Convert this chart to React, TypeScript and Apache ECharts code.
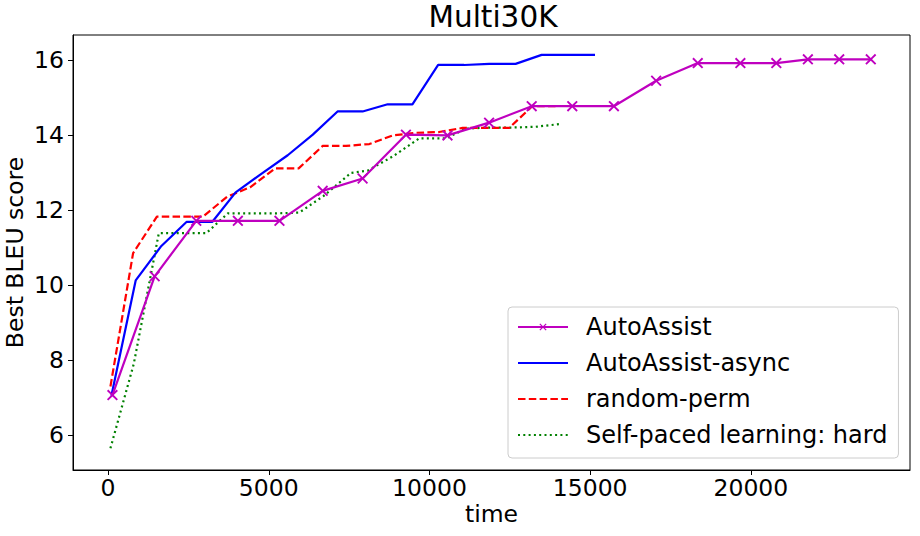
import React, { useEffect, useRef } from "react";
import * as echarts from "echarts";

const xTicks = [0, 5000, 10000, 15000, 20000];
const yTicks = [6, 8, 10, 12, 14, 16];

const autoX = [137, 1450, 2745, 4039, 5333, 6678, 7920, 9268, 10561, 11855, 13181, 14443, 15738, 17052, 18347, 19673, 20791, 21773, 22748, 23730];
const autoY = [7.07, 10.24, 11.72, 11.72, 11.72, 12.52, 12.85, 14.02, 14.0, 14.34, 14.78, 14.78, 14.78, 15.46, 15.93, 15.93, 15.93, 16.03, 16.03, 16.03];

const asyncX = [105, 860, 1660, 2440, 3240, 3970, 4780, 5590, 6370, 7140, 7920, 8700, 9470, 10270, 11080, 11860, 12680, 13490, 14320, 15150];
const asyncY = [7.05, 10.13, 11.05, 11.69, 11.69, 12.48, 12.98, 13.47, 14.02, 14.64, 14.64, 14.83, 14.83, 15.88, 15.88, 15.91, 15.91, 16.15, 16.15, 16.15];

const randX = [75, 780, 1520, 2240, 2950, 3700, 4430, 5200, 5930, 6680, 7400, 8130, 8860, 9580, 10300, 11030, 11750, 12480, 13200, 13930];
const randY = [7.3, 10.86, 11.83, 11.83, 11.83, 12.36, 12.62, 13.12, 13.12, 13.72, 13.72, 13.77, 14.0, 14.07, 14.09, 14.2, 14.2, 14.2, 14.78, 14.78];

const spX = [75, 800, 1580, 2320, 3056, 3727, 4500, 5250, 5950, 6700, 7560, 8080, 8880, 9680, 10510, 11130, 11850, 12580, 13300, 14030];
const spY = [5.65, 7.9, 11.39, 11.39, 11.39, 11.92, 11.92, 11.92, 11.94, 12.38, 13.0, 13.06, 13.45, 13.92, 13.92, 14.18, 14.21, 14.21, 14.23, 14.3];

const seriesNames = ["AutoAssist", "AutoAssist-async", "random-perm", "Self-paced learning: hard"];

const FONT = "DejaVu Sans";
const X_MARK = "path://M0,1.2L1.2,0L5,3.8L8.8,0L10,1.2L6.2,5L10,8.8L8.8,10L5,6.2L1.2,10L0,8.8L3.8,5Z";

const pairs = (xs: number[], ys: number[]) => xs.map((x, i) => [x, ys[i]]);

export default function App() {
  const ref = useRef<HTMLDivElement>(null);
  useEffect(() => {
    const chart = echarts.init(ref.current!, null, { renderer: "svg" });
    const hidden = { color: "rgba(0,0,0,0)", borderColor: "rgba(0,0,0,0)", opacity: 0 };
    chart.setOption({
      animation: false,
      backgroundColor: "#ffffff",
      textStyle: { fontFamily: FONT },
      title: {
        text: "Multi30K",
        left: 493,
        textAlign: "center",
        top: 0,
        padding: [2, 0, 0, 0],
        textStyle: { fontFamily: FONT, fontSize: 29.5, fontWeight: "normal", color: "#000" },
      },
      grid: {
        left: 73,
        right: 10,
        top: 35,
        bottom: 66,
        containLabel: false,
        outerBoundsMode: "none",
        show: true,
        borderColor: "#000",
        borderWidth: 1,
        backgroundColor: "transparent",
      },
      legend: {
        data: [
          { name: seriesNames[0] },
          { name: seriesNames[1], itemStyle: hidden },
          { name: seriesNames[2], itemStyle: hidden },
          { name: seriesNames[3], itemStyle: hidden },
        ],
        orient: "vertical",
        left: 508,
        top: 307,
        padding: [7, 11, 10, 9],
        itemWidth: 50,
        itemHeight: 9,
        itemGap: 10,
        backgroundColor: "rgba(255,255,255,0.8)",
        borderColor: "#cccccc",
        borderWidth: 1,
        borderRadius: 4,
        textStyle: { fontFamily: FONT, fontSize: 24, color: "#000", lineHeight: 26, padding: [0, 0, 0, 13] },
      },
      xAxis: {
        type: "value",
        min: -1090,
        max: 24950,
        name: "time",
        nameLocation: "middle",
        nameGap: 32,
        nameMoveOverlap: false,
        nameTextStyle: { fontFamily: FONT, fontSize: 23.5, color: "#000" },
        splitLine: { show: false },
        axisLine: { show: true, onZero: false, lineStyle: { color: "#000", width: 1 } },
        axisTick: { show: true, inside: false, length: 5, lineStyle: { color: "#000" }, customValues: xTicks },
        axisLabel: {
          fontFamily: FONT,
          fontSize: 23.5,
          color: "#000",
          margin: 6,
          customValues: xTicks,
          formatter: (v: number) => String(v),
        },
      },
      yAxis: {
        type: "value",
        min: 5.07,
        max: 16.68,
        name: "Best BLEU score",
        nameLocation: "middle",
        nameGap: 46,
        nameMoveOverlap: false,
        nameTextStyle: { fontFamily: FONT, fontSize: 23.5, color: "#000" },
        splitLine: { show: false },
        axisLine: { show: true, onZero: false, lineStyle: { color: "#000", width: 1 } },
        axisTick: { show: true, inside: false, length: 5, lineStyle: { color: "#000" }, customValues: yTicks },
        axisLabel: {
          fontFamily: FONT,
          fontSize: 23.5,
          color: "#000",
          margin: 9,
          customValues: yTicks,
          formatter: (v: number) => String(v),
        },
      },
      series: [
        {
          name: seriesNames[0],
          type: "line",
          data: pairs(autoX, autoY),
          symbol: X_MARK,
          symbolSize: 11,
          showAllSymbol: true,
          itemStyle: { color: "#bf00bf" },
          lineStyle: { color: "#bf00bf", width: 2.2 },
          z: 5,
        },
        {
          name: seriesNames[1],
          type: "line",
          data: pairs(asyncX, asyncY),
          symbol: "none",
          itemStyle: { color: "#0000ff" },
          lineStyle: { color: "#0000ff", width: 2.2 },
          z: 4,
        },
        {
          name: seriesNames[2],
          type: "line",
          data: pairs(randX, randY),
          symbol: "none",
          itemStyle: { color: "#ff0000" },
          lineStyle: { color: "#ff0000", width: 2.2, type: [7.5, 3.3] },
          z: 3,
        },
        {
          name: seriesNames[3],
          type: "line",
          data: pairs(spX, spY),
          symbol: "none",
          itemStyle: { color: "#008000" },
          lineStyle: { color: "#008000", width: 2.2, type: [2, 3.3] },
          z: 2,
        },
      ],
    });
    return () => chart.dispose();
  }, []);
  return (
    <div
      ref={ref}
      style={{ position: "fixed", left: 0, top: 0, width: 920, height: 536, background: "#fff" }}
    />
  );
}
